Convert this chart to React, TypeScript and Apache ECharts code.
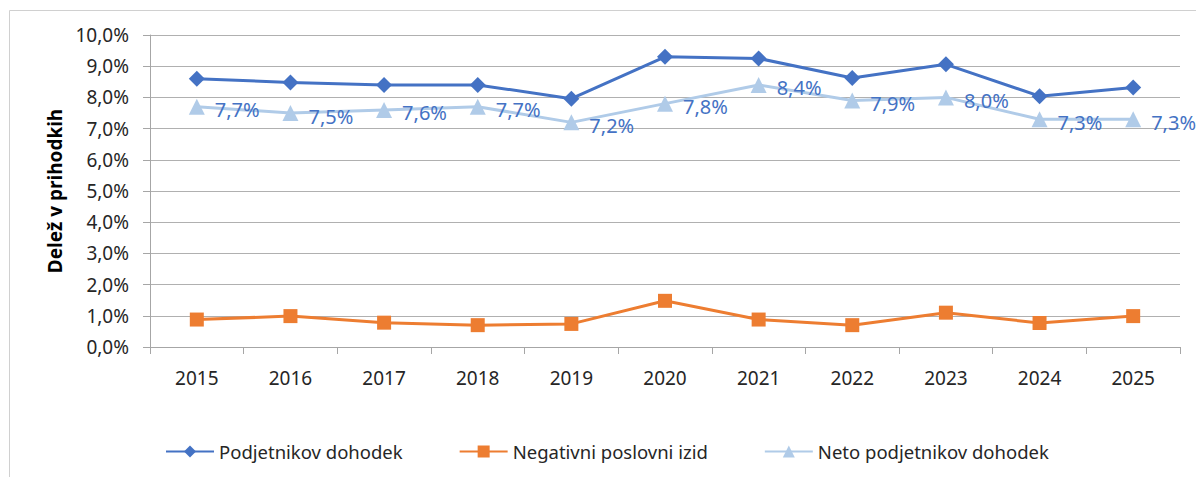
import React, { useEffect, useRef } from "react";
import * as echarts from "echarts";

const years = ["2015", "2016", "2017", "2018", "2019", "2020", "2021", "2022", "2023", "2024", "2025"];
const podjetnikov = [8.6, 8.48, 8.4, 8.4, 7.96, 9.3, 9.25, 8.62, 9.06, 8.04, 8.32];
const negativni = [0.88, 0.99, 0.78, 0.7, 0.74, 1.48, 0.88, 0.7, 1.1, 0.77, 0.99];
const neto = [7.7, 7.5, 7.6, 7.7, 7.2, 7.8, 8.4, 7.9, 8.0, 7.3, 7.3];

const FONT = "Noto Sans";
const fmt = (v: number) => v.toFixed(1).replace(".", ",") + "%";

export default function App() {
  const ref = useRef<HTMLDivElement>(null);
  useEffect(() => {
    document.body.style.margin = "0";
    const chart = echarts.init(ref.current!, null, { renderer: "svg" });
    chart.setOption({
      animation: false,
      backgroundColor: "#ffffff",
      textStyle: { fontFamily: FONT },
      graphic: [
        {
          type: "rect",
          shape: { x: 9.5, y: 10.5, width: 1400, height: 600 },
          style: { fill: "none", stroke: "#d0d0d0", lineWidth: 1 },
          silent: true,
        },
      ],
      grid: { left: 150, right: 16, top: 35, bottom: 130, outerBoundsMode: "none" },
      legend: {
        left: 165,
        top: 442,
        padding: 0,
        itemGap: 56,
        itemWidth: 48,
        itemHeight: 15,
        textStyle: { fontFamily: FONT, fontSize: 18.5, color: "#262626" },
        data: ["Podjetnikov dohodek", "Negativni poslovni izid", "Neto podjetnikov dohodek"],
      },
      xAxis: {
        type: "category",
        data: years,
        boundaryGap: true,
        axisLine: { lineStyle: { color: "#a6a6a6", width: 1 } },
        axisTick: { show: true, length: 7, lineStyle: { color: "#a6a6a6" } },
        axisLabel: { fontFamily: FONT, fontSize: 19, color: "#262626", margin: 21 },
      },
      yAxis: {
        type: "value",
        min: 0,
        max: 10,
        interval: 1,
        name: "Delež v prihodkih",
        nameLocation: "middle",
        nameGap: 82,
        nameTextStyle: { fontFamily: FONT, fontSize: 19, fontWeight: "bold", color: "#000" },
        axisLine: { show: true, lineStyle: { color: "#a6a6a6" } },
        axisTick: { show: true, length: 7, lineStyle: { color: "#a6a6a6" } },
        splitLine: { lineStyle: { color: "#b0b0b0", width: 1 } },
        axisLabel: {
          fontFamily: FONT,
          fontSize: 19,
          color: "#262626",
          margin: 21,
          formatter: (v: number) => fmt(v),
        },
      },
      series: [
        {
          name: "Neto podjetnikov dohodek",
          type: "line",
          data: neto,
          color: "#b0cbe8",
          symbol: "triangle",
          symbolSize: 16,
          lineStyle: { width: 3, color: "#b0cbe8" },
          itemStyle: { color: "#b0cbe8" },
          label: {
            show: true,
            position: "right",
            distance: 10,
            offset: [0, 3],
            fontFamily: FONT,
            fontSize: 20,
            color: "#4472c4",
            formatter: (p: any) => fmt(p.value),
          },
        },
        {
          name: "Podjetnikov dohodek",
          type: "line",
          data: podjetnikov,
          color: "#4472c4",
          symbol: "diamond",
          symbolSize: 16,
          lineStyle: { width: 3, color: "#4472c4" },
          itemStyle: { color: "#4472c4" },
        },
        {
          name: "Negativni poslovni izid",
          type: "line",
          data: negativni,
          color: "#ed7d31",
          symbol: "rect",
          symbolSize: 14,
          lineStyle: { width: 3, color: "#ed7d31" },
          itemStyle: { color: "#ed7d31" },
        },
      ],
    });
    return () => chart.dispose();
  }, []);
  return <div ref={ref} style={{ width: 1196, height: 477 }} />;
}
